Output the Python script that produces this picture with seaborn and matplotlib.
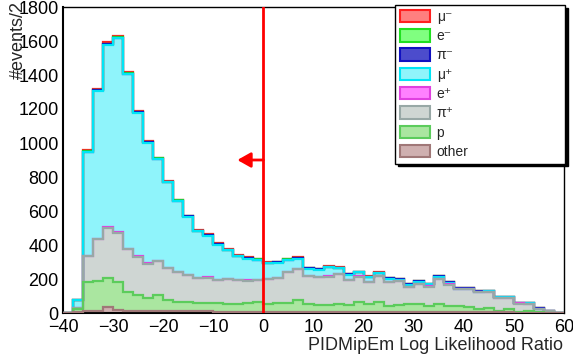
import numpy as np
import pandas as pd
import matplotlib
matplotlib.use("Agg")
import matplotlib.pyplot as plt
from matplotlib.patches import Patch
import seaborn as sns

# ---------------- data ----------------
bin_edges = list(range(-40, 61, 2))
species = ["μ⁻", "e⁻", "π⁻", "μ⁺", "e⁺", "π⁺", "p", "other"]

mum = [0,0,5,8,8,10,8,8,4,4,4,4,4,3,6,3,3,3,4,3,2,3,3,3,2,2,2,2,2,2,2,2,2,1,1,1,1,1,0,0,0,0,0,0,0,0,0,0,0,0]
em  = [0,0,2,2,3,3,2,2,2,1,1,1,1,1,1,1,1,1,1,1,1,1,1,1,0,0,0,0,0,0,0,0,0,0,0,0,0,0,0,0,0,0,0,0,0,0,0,0,0,0]
pim = [0,0,2,3,3,3,3,2,2,2,2,2,2,2,2,4,2,2,2,2,2,2,2,6,3,4,3,2,5,2,3,2,4,2,3,2,2,4,2,5,4,3,1,3,4,0,0,3,0,0]
mup = [0,45,610,872,1075,1141,1028,844,709,601,504,415,340,274,245,207,169,138,127,117,92,91,72,57,41,42,54,33,25,24,26,18,14,7,15,13,12,14,5,3,4,2,4,3,2,1,3,0,0,0]
ep  = [0,0,2,2,2,2,2,2,2,2,2,1,1,1,1,1,1,1,3,1,1,1,1,1,1,1,1,1,1,1,1,1,1,1,1,1,1,1,8,0,0,0,0,0,0,5,3,2,0,0]
pip = [0,8,155,243,297,288,253,229,204,200,190,179,161,147,151,133,145,141,133,131,149,147,182,184,165,163,167,176,149,151,133,154,144,141,100,120,114,143,124,96,102,99,97,76,68,43,41,20,12,0]
prot = [0,16,171,180,169,169,110,93,77,91,64,54,54,50,47,53,45,45,49,55,43,49,49,67,45,39,39,47,39,55,43,54,34,41,45,45,35,49,35,37,31,21,23,11,19,6,8,3,0,0]
other = [0,5,10,10,35,15,12,10,10,12,10,10,10,10,10,8,8,8,8,8,8,8,8,8,8,8,8,8,8,8,8,8,6,6,6,6,6,6,6,6,6,4,4,3,3,2,2,1,0,0]

cut_value = 0
arrow_y = 900
arrow_end = -5.2

# ---------------- styles ----------------
fill_colors = ["#ff7f7f", "#80ff80", "#4c4ccc", "#8ff4fb", "#ff80ff", "#cfd6d3", "#aae6a0", "#cfb0b0"]
edge_colors = ["#ff2020", "#20e020", "#1010c0", "#00e5f5", "#e040e0", "#98a8a6", "#5ccc5c", "#a07878"]

series = [mum, em, pim, mup, ep, pip, prot, other]
edges = np.array(bin_edges, dtype=float)
centers = (edges[:-1] + edges[1:]) / 2

rows = []
for name, vals in zip(species, series):
    for c, v in zip(centers, vals):
        rows.append({"x": float(c), "n": float(v), "species": name})
df = pd.DataFrame(rows)

sns.set_style("white")
plt.rcParams["font.family"] = ["Liberation Sans", "DejaVu Sans"]

fig = plt.figure(figsize=(5.73, 3.60), dpi=100)
ax = fig.add_axes([63/573, 1 - 313/360, (564-63)/573, (313-7)/360])

sns.histplot(data=df, x="x", weights="n", hue="species", hue_order=species,
             bins=list(bin_edges), multiple="stack", element="step", fill=True,
             palette=dict(zip(species, fill_colors)), alpha=1, linewidth=0,
             legend=False, ax=ax)

# outlines of each stacked layer, drawn from the total down to the lowest
# (as a stacked histogram draws them), so lower outlines lie on top
stack = np.zeros(len(centers))
tops = []
for vals in series[::-1]:
    stack = stack + np.array(vals)
    tops.append(stack.copy())
z = 3.0
for top, col in list(zip(tops, edge_colors[::-1]))[::-1]:
    ax.stairs(top, edges, color=col, lw=1.6, zorder=z)
    z += 0.01

# cut line and arrow
ax.axvline(cut_value, color="red", lw=2, zorder=4)
ax.annotate("", xy=(arrow_end, arrow_y), xytext=(cut_value, arrow_y),
            arrowprops=dict(arrowstyle="-|>,head_length=0.8,head_width=0.45",
                            color="red", lw=2, shrinkA=0, shrinkB=0), zorder=5)

ax.set_xlim(-40, 60)
ax.set_ylim(0, 1800)
ax.set_xlabel("")
ax.set_ylabel("")
ax.set_xticks(range(-40, 61, 10))
ax.set_xticks(range(-40, 61, 2), minor=True)
ax.set_yticks(range(0, 1801, 200))
ax.set_yticks(range(0, 1801, 40), minor=True)
ax.tick_params(axis="both", which="both", direction="in", labelsize=13, colors="black")
ax.tick_params(axis="x", which="major", length=7, width=1, pad=4)
ax.tick_params(axis="x", which="minor", length=3.5, width=1)
ax.tick_params(axis="y", which="major", length=10, width=1, pad=3)
ax.tick_params(axis="y", which="minor", length=5, width=1)
ax.xaxis.set_major_formatter(matplotlib.ticker.FuncFormatter(lambda v, p: f"{int(v)}".replace("-", "\u2212")))
for s in ax.spines.values():
    s.set_color("black")
    s.set_linewidth(1)
ax.spines["left"].set_linewidth(1.5)
ax.spines["bottom"].set_linewidth(1.5)

fig.text(563/573, 1 - 345/360, "PIDMipEm Log Likelihood Ratio", ha="right", va="center", fontsize=13)
fig.text(18/573, 1 - 1/360, "#events/2", ha="center", va="top", rotation=90, fontsize=13)

handles = [Patch(facecolor=f, edgecolor=e, lw=1.5) for f, e in zip(fill_colors, edge_colors)]
leg = ax.legend(handles, species, loc="upper left",
                bbox_to_anchor=(395/573, 1 - 161/360, (565-395)/573, (161-5)/360),
                bbox_transform=fig.transFigure, mode="expand", fontsize=10,
                handlelength=2.2, handleheight=1.0, labelspacing=0.38,
                borderpad=0.35, handletextpad=0.45, borderaxespad=0,
                fancybox=False, framealpha=1, edgecolor="black",
                shadow={"color": "black", "alpha": 1, "ox": 2, "oy": -2})
leg.get_frame().set_linewidth(1)
leg.set_zorder(10)

fig.savefig("out.png", dpi=100)
